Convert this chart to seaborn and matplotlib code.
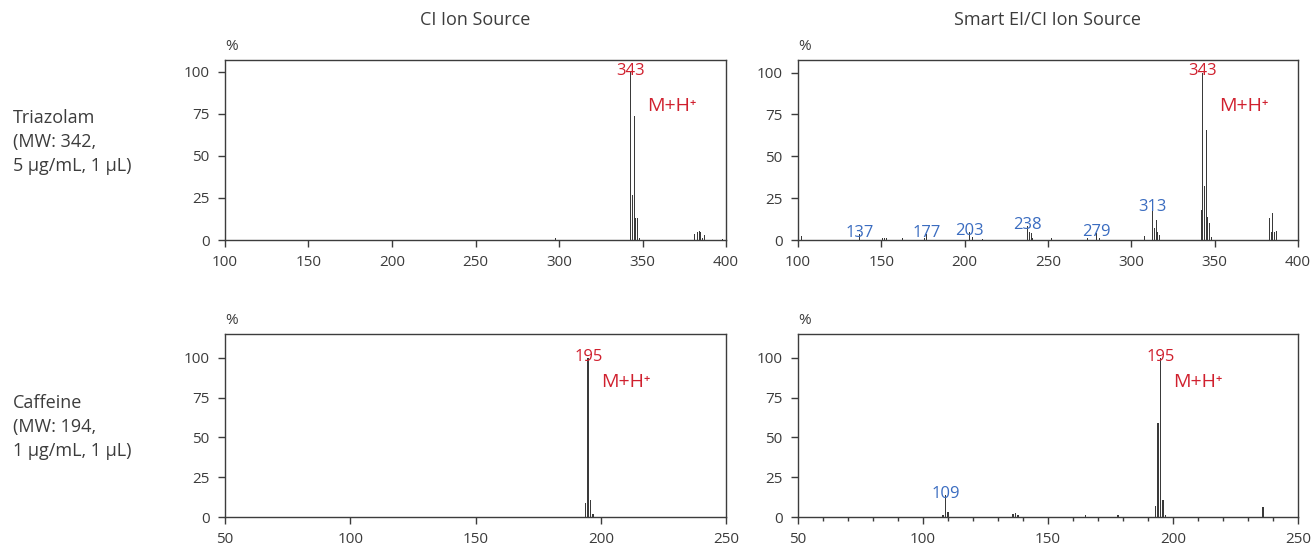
import matplotlib
matplotlib.use('Agg')
import matplotlib.pyplot as plt
from matplotlib.ticker import MultipleLocator
import seaborn as sns
import pandas as pd

# values (m/z, relative intensity %)
col_titles = ['CI Ion Source', 'Smart EI/CI Ion Source']
row_labels = ['Triazolam\n(MW: 342,\n5 µg/mL, 1 µL)',
              'Caffeine\n(MW: 194,\n1 µg/mL, 1 µL)']

ci_tri_mz = [298, 343, 344, 345, 346, 347, 348, 381, 383, 384, 385, 386, 387, 398]
ci_tri_int = [1.0, 100, 27, 74, 13, 13, 1.5, 3.5, 5, 5.5, 4.5, 1.5, 3, 0.8]

smart_tri_mz = [102, 137, 151, 152, 153, 163, 176, 177, 203, 205, 211,
                238, 239, 240, 241, 252, 274, 279, 281, 308,
                313, 314, 315, 316, 317, 342, 343, 344, 345, 346, 347, 348,
                383, 384, 385, 386, 387]
smart_tri_int = [2.5, 3.5, 1.2, 1.0, 1.0, 1.2, 1.0, 3.5, 4.5, 2.0, 0.8,
                 8.5, 4.5, 4.0, 1.5, 1.0, 1.0, 4.0, 1.5, 2.5,
                 19, 7, 12, 5, 3, 18, 100, 32, 66, 14, 10, 2,
                 13, 5, 16, 4.5, 5.5]

ci_caf_mz = [194, 195, 196, 197]
ci_caf_int = [8.5, 100, 11, 2]

smart_caf_mz = [108, 109, 110, 136, 137, 138, 165, 178, 193, 194, 195, 196, 197, 236]
smart_caf_int = [1.0, 14, 3, 2, 2.3, 1.5, 1.0, 1.5, 7, 59, 100, 11, 1.0, 6.5]

ci_tri_labels = [343]
smart_tri_labels = [137, 177, 203, 238, 279, 313, 343]
ci_caf_labels = [195]
smart_caf_labels = [109, 195]
base_peaks = [343, 195]

tri_xticks = [100, 150, 200, 250, 300, 350, 400]
caf_xticks = [50, 100, 150, 200, 250]
y_ticks = [0, 25, 50, 75, 100]

TEXT = '#3c3c3c'
PEAK = '#3a3a3a'
RED = '#d0202e'
BLUE = '#3a6cc0'

sns.set_style('ticks')
plt.rcParams['font.family'] = ['Open Sans', 'DejaVu Sans']


def draw_panel(ax, mz, inten, labels, xticks, ytop, mh_x, mh_y, minor=None):
    df = pd.DataFrame({'mz': mz, 'intensity': inten})
    sns.barplot(data=df, x='mz', y='intensity', native_scale=True, width=0.6,
                color=PEAK, saturation=1, linewidth=0, errorbar=None, ax=ax)
    ax.set_xlim(xticks[0], xticks[-1])
    ax.set_xticks(xticks)
    ax.set_xticklabels([str(t) for t in xticks])
    ax.set_ylim(0, ytop)
    ax.set_yticks(y_ticks)
    ax.set_xlabel('')
    ax.set_ylabel('')
    if minor:
        ax.xaxis.set_minor_locator(MultipleLocator(minor))
        ax.tick_params(axis='x', which='minor', direction='out', length=3,
                       width=1, color=TEXT)
    ax.tick_params(which='major', direction='out', length=5, width=1,
                   color=TEXT, labelcolor=TEXT, labelsize=11, pad=6)
    for side in ['left', 'bottom', 'top', 'right']:
        ax.spines[side].set_color(TEXT)
        ax.spines[side].set_linewidth(1.0)

    for lab in labels:
        val = df.loc[df['mz'] == lab, 'intensity'].iloc[0]
        ax.annotate(str(lab), xy=(lab, val), xytext=(0, -2),
                    textcoords='offset points', ha='center', va='baseline',
                    fontsize=12, color=RED if lab in base_peaks else BLUE)
    ax.text(mh_x, mh_y, 'M+H⁺', ha='left', va='baseline', fontsize=14,
            color=RED)
    ax.annotate('%', xy=(0, 1), xycoords='axes fraction', xytext=(5, 10),
                textcoords='offset points', ha='center', va='center',
                fontsize=11, color=TEXT)


fig = plt.figure(figsize=(13.15, 5.47), dpi=100)
ax_tl = fig.add_axes([0.1711, 0.5612, 0.381, 0.329])
ax_tr = fig.add_axes([0.6068, 0.5612, 0.3802, 0.329])
ax_bl = fig.add_axes([0.1711, 0.0548, 0.381, 0.3346])
ax_br = fig.add_axes([0.6068, 0.0548, 0.3802, 0.3346])

draw_panel(ax_tl, ci_tri_mz, ci_tri_int, ci_tri_labels, tri_xticks, 107, 353, 76.5)
draw_panel(ax_tr, smart_tri_mz, smart_tri_int, smart_tri_labels, tri_xticks, 107.5, 353, 77)
draw_panel(ax_bl, ci_caf_mz, ci_caf_int, ci_caf_labels, caf_xticks, 115, 200, 82)
draw_panel(ax_br, smart_caf_mz, smart_caf_int, smart_caf_labels, caf_xticks, 115, 200, 82, minor=10)

for ax, title in zip([ax_tl, ax_tr], col_titles):
    fig.text((ax.get_position().x0 + ax.get_position().x1) / 2, 0.9634, title,
             ha='center', va='center', fontsize=13, color=TEXT)

fig.text(0.0099, 0.7404, row_labels[0], ha='left', va='center', fontsize=13,
         color=TEXT, linespacing=1.4)
fig.text(0.0099, 0.2194, row_labels[1], ha='left', va='center', fontsize=13,
         color=TEXT, linespacing=1.4)

fig.savefig('out.png', dpi=100)
